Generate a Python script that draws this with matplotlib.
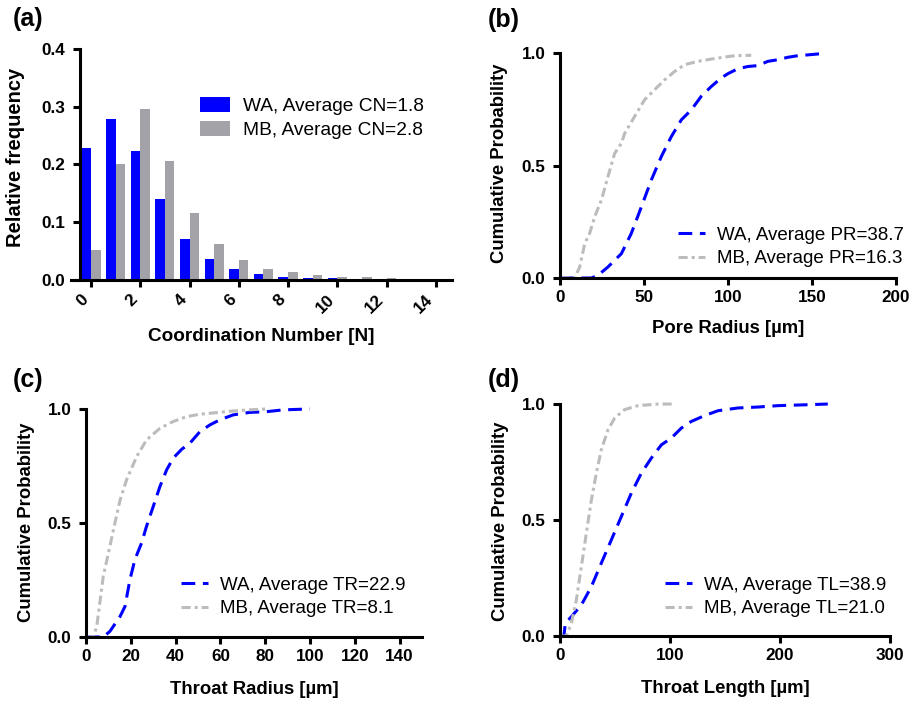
import matplotlib
matplotlib.use('Agg')
import matplotlib.pyplot as plt
import numpy as np

plt.rcParams['font.family'] = ['Liberation Sans', 'DejaVu Sans']

# (a) coordination number histogram
cn = np.arange(15)
wa_cn = [0.228, 0.279, 0.223, 0.140, 0.071, 0.036, 0.019, 0.011, 0.006, 0.004, 0.003, 0.002, 0.002, 0.001, 0.001]
mb_cn = [0.052, 0.201, 0.296, 0.206, 0.116, 0.062, 0.034, 0.019, 0.013, 0.009, 0.006, 0.005, 0.004, 0.002, 0.002]

# (b) pore radius CDF
wa_pr_x = [0, 18.6, 22.6, 28.5, 36.5, 42.4, 48.4, 54.3, 60.3, 66.2, 72.2, 78.1, 84, 90, 95.9, 99.9, 105.8, 111.8, 117.7, 123.7, 129.6, 135.6, 141.5, 149.5, 155.4]
wa_pr_y = [0, 0, 0.012, 0.049, 0.108, 0.198, 0.316, 0.435, 0.54, 0.628, 0.703, 0.747, 0.807, 0.851, 0.889, 0.908, 0.93, 0.94, 0.944, 0.963, 0.97, 0.981, 0.988, 0.993, 0.997]
mb_pr_x = [0, 8.7, 11.7, 14.7, 17.6, 20.6, 24.6, 28.5, 32.5, 36.5, 38.5, 44.4, 50.3, 56.3, 62.3, 68.2, 74.1, 82.1, 90, 98, 103.9, 113.8]
mb_pr_y = [0, 0, 0.049, 0.153, 0.198, 0.272, 0.346, 0.45, 0.554, 0.599, 0.643, 0.718, 0.792, 0.837, 0.881, 0.918, 0.948, 0.963, 0.973, 0.982, 0.988, 0.99]

# (c) throat radius CDF
wa_tr_x = [0, 7.7, 10.7, 15.2, 17.4, 19.6, 21.8, 24.8, 27, 30, 33, 36, 38.9, 42.7, 46.4, 50.8, 55.3, 59.7, 65.7, 73.1, 80.5, 88, 99.9]
wa_tr_y = [0, 0, 0.025, 0.09, 0.134, 0.251, 0.339, 0.412, 0.485, 0.572, 0.66, 0.733, 0.784, 0.823, 0.85, 0.9, 0.93, 0.952, 0.974, 0.985, 0.988, 0.996, 1.0]
mb_tr_x = [0, 3.3, 4.8, 7.7, 10, 12.9, 15.2, 18.1, 22.6, 27, 33, 38.9, 44.9, 50.8, 58.3, 65.7, 73.1, 80.5]
mb_tr_y = [0, 0, 0.047, 0.266, 0.368, 0.5, 0.6, 0.689, 0.791, 0.864, 0.915, 0.945, 0.966, 0.977, 0.984, 0.991, 0.996, 1.0]

# (d) throat length CDF
wa_tl_x = [0, 3.5, 4.8, 10.3, 19.4, 28.5, 37.5, 46.6, 55.7, 64.8, 73.9, 83, 92.1, 101.1, 110.2, 119.3, 131.4, 143.5, 161.7, 179.8, 198, 225.3, 243.4]
wa_tl_y = [0, 0, 0.055, 0.083, 0.134, 0.213, 0.314, 0.414, 0.515, 0.616, 0.702, 0.767, 0.824, 0.853, 0.896, 0.925, 0.95, 0.971, 0.983, 0.987, 0.993, 0.997, 1.0]
mb_tl_x = [0, 5.8, 10.3, 14.8, 19.4, 23.9, 28.5, 33, 37.5, 43.6, 49.7, 58.7, 70.8, 89, 104.1]
mb_tl_y = [0, 0, 0.055, 0.155, 0.3, 0.443, 0.587, 0.702, 0.803, 0.889, 0.94, 0.976, 0.993, 1.0, 1.0]

blue = '#0000ff'
gray_bar = '#a2a2a8'
gray_line = '#bcbcbc'
lw_ax = 2.2

fig = plt.figure(figsize=(9.16, 7.04), dpi=100)
ax_a = fig.add_axes([0.0775, 0.6023, 0.4159, 0.3281])
ax_b = fig.add_axes([0.6114, 0.6051, 0.3668, 0.3196])
ax_c = fig.add_axes([0.0939, 0.0952, 0.3668, 0.3239])
ax_d = fig.add_axes([0.6114, 0.0966, 0.3603, 0.3295])


def style(ax):
    for s in ['top', 'right']:
        ax.spines[s].set_visible(False)
    for s in ['left', 'bottom']:
        ax.spines[s].set_linewidth(lw_ax)
    ax.tick_params(width=lw_ax, length=5, labelsize=12.3)
    ax.tick_params(axis='x', pad=3.5)
    ax.tick_params(axis='y', pad=5.5)
    for lab in ax.get_xticklabels() + ax.get_yticklabels():
        lab.set_fontweight('bold')


# ---- (a)
w = 0.39
ax_a.bar(cn - w / 2, wa_cn, width=w, color=blue, label='WA, Average CN=1.8')
ax_a.bar(cn + w / 2, mb_cn, width=w, color=gray_bar, label='MB, Average CN=2.8')
ax_a.set_xlim(-0.81, 14.65)
ax_a.set_ylim(0, 0.4)
ax_a.spines['left'].set_position(('data', -0.45))
ax_a.set_xticks(np.arange(0, 15, 2))
ax_a.set_yticks([0, 0.1, 0.2, 0.3, 0.4])
ax_a.set_yticklabels(['0.0', '0.1', '0.2', '0.3', '0.4'])
style(ax_a)
plt.setp(ax_a.get_xticklabels(), rotation=45, ha='right')
ax_a.set_xlabel('Coordination Number [N]', fontsize=13.7, fontweight='bold')
ax_a.set_ylabel('Relative frequency', fontsize=14.5, fontweight='bold')
ax_a.xaxis.set_label_coords(0.5, -0.206)
ax_a.yaxis.set_label_coords(-0.121, 0.532)
ax_a.legend(loc='center left', bbox_to_anchor=(0.339, 0.70), frameon=False, fontsize=13.8,
            handlelength=1.56, handleheight=0.83, handletextpad=0.68, labelspacing=0.3,
            borderpad=0, borderaxespad=0)


def cdf_panel(ax, wx, wy, mx, my, xmax, xticks, xlabel, wlab, mlab, anchor, xl_y, yl_x, yl_y):
    l1, = ax.plot(wx, wy, color=blue, lw=2.2, label=wlab)
    l1.set_dashes((4.5, 2.5))
    l2, = ax.plot(mx, my, color=gray_line, lw=2.2, label=mlab)
    l2.set_dashes((3, 1.3, 1, 1.3))
    ax.set_xlim(0, xmax)
    ax.set_ylim(0, 1.0)
    ax.set_xticks(xticks)
    ax.set_yticks([0, 0.5, 1.0])
    ax.set_yticklabels(['0.0', '0.5', '1.0'])
    style(ax)
    ax.set_xlabel(xlabel, fontsize=13.3, fontweight='bold')
    ax.set_ylabel('Cumulative Probability', fontsize=13.3, fontweight='bold')
    ax.xaxis.set_label_coords(0.5, xl_y)
    ax.yaxis.set_label_coords(yl_x, yl_y)
    ax.legend(loc='center left', bbox_to_anchor=anchor, frameon=False, fontsize=13.5,
              handlelength=1.44, handletextpad=0.64, labelspacing=0.34,
              borderpad=0, borderaxespad=0)
    for l in ax.lines:
        l.set_clip_on(False)


cdf_panel(ax_b, wa_pr_x, wa_pr_y, mb_pr_x, mb_pr_y, 200, [0, 50, 100, 150, 200],
          'Pore Radius [µm]', 'WA, Average PR=38.7', 'MB, Average PR=16.3', (0.351, 0.138),
          -0.187, -0.155, 0.511)
cdf_panel(ax_c, wa_tr_x, wa_tr_y, mb_tr_x, mb_tr_y, 150, [0, 20, 40, 60, 80, 100, 120, 140],
          'Throat Radius [µm]', 'WA, Average TR=22.9', 'MB, Average TR=8.1', (0.283, 0.175),
          -0.195, -0.152, 0.502)
cdf_panel(ax_d, wa_tl_x, wa_tl_y, mb_tl_x, mb_tl_y, 300, [0, 100, 200, 300],
          'Throat Length [µm]', 'WA, Average TL=38.9', 'MB, Average TL=21.0', (0.318, 0.168),
          -0.19, -0.156, 0.493)

# panel labels
for txt, x, y in [('(a)', 13, 19), ('(b)', 488, 20), ('(c)', 13, 380), ('(d)', 488, 380)]:
    fig.text(x / 916, 1 - y / 704, txt, fontsize=18, fontweight='bold', va='center', ha='left')

fig.savefig('out.png', dpi=100)
